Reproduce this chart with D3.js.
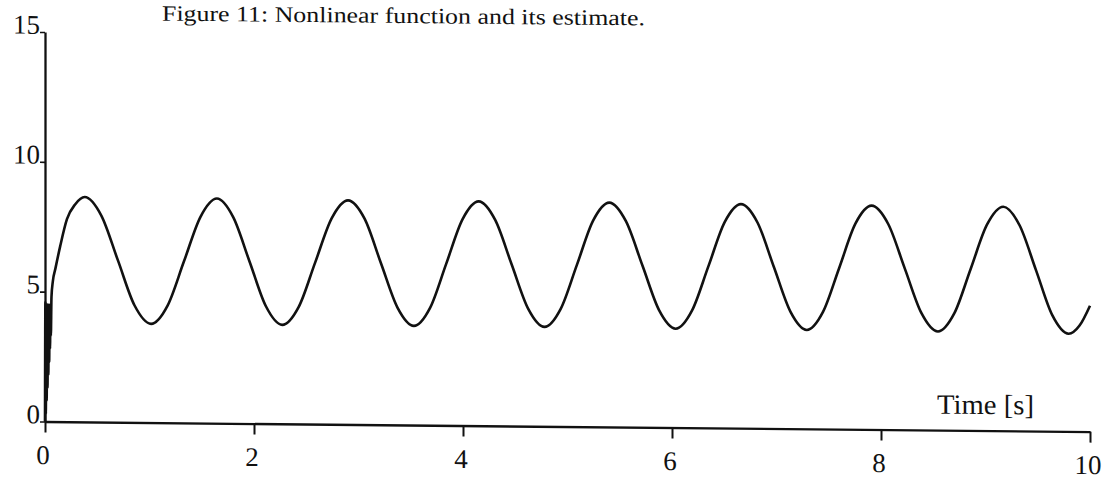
<!DOCTYPE html>
<html>
<head>
<meta charset="utf-8">
<script src="https://cdn.jsdelivr.net/npm/d3@7"></script>
<style>
  html, body { margin: 0; padding: 0; background: #fff; }
  svg { display: block; }
  text { font-family: "Liberation Serif", "DejaVu Serif", serif; fill: #111; }
</style>
</head>
<body>
<svg id="chart" width="1112" height="482"></svg>
<script>
// Sampled response of the nonlinear function over 0..10 s
const timeS = [
  0, 0.004, 0.008, 0.012, 0.016, 0.020, 0.024, 0.028, 0.032, 0.036, 0.040,
  0.044, 0.048, 0.052, 0.056, 0.062, 0.075,
  0.10, 0.145, 0.21, 0.29, 0.38,
  0.539, 0.698, 0.856, 1.015,
  1.173, 1.330, 1.488, 1.645,
  1.801, 1.958, 2.114, 2.27,
  2.428, 2.585, 2.743, 2.90,
  3.058, 3.215, 3.373, 3.53,
  3.685, 3.840, 3.995, 4.15,
  4.308, 4.465, 4.623, 4.78,
  4.935, 5.090, 5.245, 5.40,
  5.559, 5.718, 5.876, 6.035,
  6.191, 6.348, 6.504, 6.66,
  6.818, 6.975, 7.133, 7.29,
  7.445, 7.600, 7.755, 7.91,
  8.069, 8.228, 8.386, 8.545,
  8.701, 8.858, 9.014, 9.17,
  9.326, 9.483, 9.639, 9.795,
  9.90, 10.0
];
const value = [
  0, 4.6, 0.3, 4.5, 0.8, 4.5, 1.3, 4.5, 1.8, 4.5, 2.3,
  4.5, 2.8, 4.5, 3.3, 4.8, 5.4,
  5.9, 6.75, 7.8, 8.38, 8.66,
  7.95, 6.23, 4.51, 3.80,
  4.51, 6.22, 7.94, 8.65,
  7.94, 6.23, 4.52, 3.81,
  4.51, 6.22, 7.93, 8.63,
  7.93, 6.22, 4.52, 3.82,
  4.52, 6.23, 7.94, 8.64,
  7.93, 6.23, 4.53, 3.83,
  4.53, 6.23, 7.94, 8.64,
  7.93, 6.22, 4.52, 3.81,
  4.51, 6.22, 7.93, 8.63,
  7.93, 6.22, 4.51, 3.81,
  4.51, 6.21, 7.92, 8.62,
  7.92, 6.21, 4.51, 3.80,
  4.50, 6.22, 7.93, 8.63,
  7.92, 6.20, 4.47, 3.76,
  4.08, 4.85
];
const xTicks = [0, 2, 4, 6, 8, 10];
const yTicks = [0, 5, 10, 15];
const titleText = "Figure 11: Nonlinear function and its estimate.";
const xLabel = "Time [s]";

const svg = d3.select("#chart");
const x0 = 45, y0 = 421.5;

const x = d3.scaleLinear().domain([0, 10]).range([x0, 1090]);
const y = d3.scaleLinear().domain([0, 15]).range([y0, 32]);

// the printed figure sits on a very slight slant
const root = svg.append("g")
  .attr("transform", `translate(${x0},${y0}) skewY(0.555) translate(${-x0},${-y0})`);

// y axis
const yAxis = root.append("g")
  .attr("transform", `translate(${x0},0)`)
  .call(d3.axisLeft(y).tickValues(yTicks).tickSize(5).tickSizeOuter(0).tickFormat(d3.format("d")));
yAxis.select(".domain").attr("stroke", "#111").attr("stroke-width", 2.3);
yAxis.selectAll(".tick line").attr("stroke", "#111").attr("stroke-width", 1.6);
yAxis.selectAll(".tick text")
  .attr("x", -5).attr("dy", "0.05em")
  .attr("font-size", 27)
  .style("font-family", "Liberation Serif, serif").attr("fill", "#111");

// x axis
const xAxis = root.append("g")
  .attr("transform", `translate(0,${y0})`)
  .call(d3.axisBottom(x).tickValues(xTicks).tickSize(11).tickSizeOuter(0).tickFormat(d3.format("d")));
xAxis.select(".domain").attr("stroke", "#111").attr("stroke-width", 2.3);
xAxis.selectAll(".tick line").attr("stroke", "#111").attr("stroke-width", 2);
xAxis.selectAll(".tick text")
  .attr("y", 42.5).attr("dy", 0).attr("dx", -2.5)
  .attr("font-size", 27)
  .style("font-family", "Liberation Serif, serif").attr("fill", "#111");

// curve
const pts = timeS.map((t, i) => [t, value[i]]);
root.append("path")
  .datum(pts)
  .attr("fill", "none")
  .attr("stroke", "#111")
  .attr("stroke-width", 2.6)
  .attr("stroke-linejoin", "round")
  .attr("d", d3.line().x(d => x(d[0])).y(d => y(d[1])).curve(d3.curveMonotoneX));

// axis title
root.append("text")
  .attr("x", 937).attr("y", 405)
  .attr("font-size", 28)
  .attr("textLength", 97)
  .attr("lengthAdjust", "spacingAndGlyphs")
  .text(xLabel);

// figure caption
root.append("text")
  .attr("x", 162).attr("y", 19.5)
  .attr("font-size", 22)
  .attr("textLength", 483)
  .attr("lengthAdjust", "spacingAndGlyphs")
  .text(titleText);
</script>
</body>
</html>
